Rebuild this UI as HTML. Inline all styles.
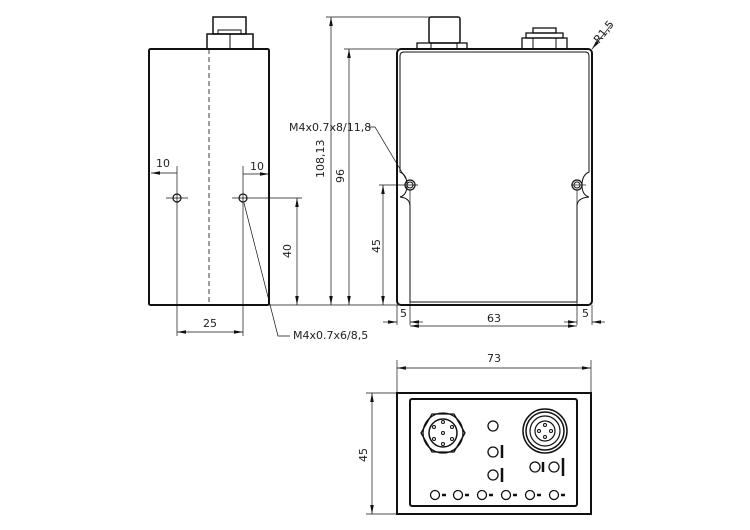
<!DOCTYPE html>
<html><head><meta charset="utf-8"><style>
html,body{margin:0;padding:0;background:#fff}
svg{display:block}
text{font-family:"DejaVu Sans","Liberation Sans",sans-serif;font-size:11px;fill:#222}
</style></head><body>
<svg width="750" height="530" viewBox="0 0 750 530" xmlns="http://www.w3.org/2000/svg">
<defs>
<marker id="a" viewBox="0 0 10 10" refX="10" refY="5" markerWidth="9" markerHeight="9" markerUnits="userSpaceOnUse" orient="auto-start-reverse"><path d="M0,3 L10,5 L0,7 z" fill="#111"/></marker>
</defs>
<g stroke="#111" fill="none">
<!-- LEFT VIEW -->
<rect x="149" y="49" width="120" height="256" rx="1.5" stroke-width="2"/>
<rect x="207" y="34" width="46" height="15" stroke-width="1.5"/>
<line x1="230" y1="34" x2="230" y2="49" stroke-width="1"/>
<rect x="213" y="17" width="33" height="17" stroke-width="1.5"/>
<rect x="218" y="30" width="23" height="4" stroke-width="1"/>
<line x1="209" y1="49" x2="209" y2="305" stroke-width="0.8" stroke-dasharray="5,3"/>
<circle cx="177" cy="198" r="4" stroke-width="1.2"/>
<circle cx="243" cy="198" r="4" stroke-width="1.2"/>
<g stroke-width="0.7">
<line x1="166" y1="198" x2="188" y2="198"/><line x1="232" y1="198" x2="302" y2="198"/>
<line x1="177" y1="166" x2="177" y2="336"/><line x1="243" y1="166" x2="243" y2="336"/>
<line x1="151" y1="173" x2="177" y2="173" marker-start="url(#a)"/>
<line x1="243" y1="174" x2="269" y2="174" marker-end="url(#a)"/>
<line x1="177" y1="332" x2="243" y2="332" marker-start="url(#a)" marker-end="url(#a)"/>
<line x1="297" y1="198" x2="297" y2="305" marker-start="url(#a)" marker-end="url(#a)"/>
<line x1="269" y1="305" x2="400" y2="305"/>
<polyline points="244,203 278,336 290,336"/>
<line x1="331" y1="17" x2="331" y2="305" marker-start="url(#a)" marker-end="url(#a)"/>
<line x1="349" y1="49" x2="349" y2="305" marker-start="url(#a)" marker-end="url(#a)"/>
<line x1="326" y1="17" x2="430" y2="17"/>
<line x1="344" y1="49" x2="398" y2="49"/>
</g>
<!-- RIGHT VIEW -->
<rect x="397" y="49" width="195" height="256" rx="4" stroke-width="2"/>
<path d="M400,172 L400,56 Q400,52 404,52 L585,52 Q589,52 589,56 L589,172 Q582,175 582,185 Q582,195 589,197 Q577,198 577,206 L577,302 L410,302 L410,206 Q410,198 400,197 Q407,195 407,185 Q407,175 400,172 Z" stroke-width="1"/>
<circle cx="410" cy="185" r="5" stroke-width="1.2"/><circle cx="410" cy="185" r="3" stroke-width="1"/>
<circle cx="577" cy="185" r="5" stroke-width="1.2"/><circle cx="577" cy="185" r="3" stroke-width="1"/>
<rect x="417" y="43" width="50" height="6" stroke-width="1.3"/>
<rect x="429" y="17" width="31" height="26" rx="2" stroke-width="1.5"/>
<line x1="431" y1="43" x2="431" y2="49"/><line x1="457" y1="43" x2="457" y2="49"/>
<rect x="522" y="38" width="45" height="11" stroke-width="1.3"/>
<rect x="526" y="33" width="37" height="5" stroke-width="1.3"/>
<rect x="533" y="28" width="23" height="5" stroke-width="1.3"/>
<line x1="533" y1="38" x2="533" y2="49"/><line x1="556" y1="38" x2="556" y2="49"/>
<g stroke-width="0.7">
<line x1="383" y1="185" x2="383" y2="305" marker-start="url(#a)" marker-end="url(#a)"/>
<line x1="379" y1="185" x2="418" y2="185"/><line x1="571" y1="185" x2="586" y2="185"/>
<line x1="397" y1="305" x2="397" y2="325"/><line x1="410" y1="190" x2="410" y2="325"/>
<line x1="577" y1="190" x2="577" y2="325"/><line x1="592" y1="305" x2="592" y2="325"/>
<line x1="383" y1="322" x2="397" y2="322" marker-end="url(#a)"/>
<line x1="410" y1="322" x2="423" y2="322" marker-start="url(#a)"/>
<line x1="410" y1="326" x2="577" y2="326" marker-start="url(#a)" marker-end="url(#a)"/>
<line x1="564" y1="322" x2="577" y2="322" marker-end="url(#a)"/>
<line x1="592" y1="322" x2="605" y2="322" marker-start="url(#a)"/>
<polyline points="368,127 375,127 406,179"/>
<line x1="592" y1="49" x2="611" y2="25" marker-start="url(#a)"/>
</g>
<!-- BOTTOM VIEW -->
<rect x="397" y="393" width="194" height="121" stroke-width="2"/>
<rect x="410" y="399" width="167" height="107" rx="2" stroke-width="2"/>
<polygon points="465,433 454,452 432,452 421,433 432,414 454,414" stroke-width="1.3"/>
<circle cx="443" cy="433" r="20" stroke-width="1.3"/>
<circle cx="443" cy="433" r="14" stroke-width="1.5"/>
<g stroke-width="1"><circle cx="443" cy="422" r="1.5"/><circle cx="452" cy="427" r="1.5"/><circle cx="452" cy="439" r="1.5"/><circle cx="443" cy="444" r="1.5"/><circle cx="434" cy="439" r="1.5"/><circle cx="434" cy="427" r="1.5"/><circle cx="443" cy="433" r="1.5"/></g>
<circle cx="545" cy="431" r="22" stroke-width="1.5"/>
<circle cx="545" cy="431" r="19" stroke-width="1.5"/>
<circle cx="545" cy="431" r="15" stroke-width="1.2"/>
<circle cx="545" cy="431" r="10" stroke-width="1.2"/>
<g stroke-width="1"><circle cx="545" cy="425" r="1.5"/><circle cx="551" cy="431" r="1.5"/><circle cx="545" cy="437" r="1.5"/><circle cx="539" cy="431" r="1.5"/></g>
<g stroke-width="1.3">
<circle cx="493" cy="426" r="5"/><circle cx="493" cy="452" r="5"/><circle cx="493" cy="475" r="5"/>
<circle cx="535" cy="467" r="5"/><circle cx="554" cy="467" r="5"/>
<circle cx="435" cy="495" r="4.5"/><circle cx="458" cy="495" r="4.5"/><circle cx="482" cy="495" r="4.5"/>
<circle cx="506" cy="495" r="4.5"/><circle cx="530" cy="495" r="4.5"/><circle cx="554" cy="495" r="4.5"/>
</g>
<g stroke-width="2.5">
<line x1="442" y1="495" x2="446" y2="495"/><line x1="465" y1="495" x2="469" y2="495"/><line x1="489" y1="495" x2="493" y2="495"/>
<line x1="513" y1="495" x2="517" y2="495"/><line x1="537" y1="495" x2="541" y2="495"/><line x1="561" y1="495" x2="565" y2="495"/>
<line x1="502" y1="445" x2="502" y2="458"/><line x1="502" y1="468" x2="502" y2="482"/>
<line x1="543" y1="462" x2="543" y2="472"/><line x1="563" y1="458" x2="563" y2="476"/>
</g>
<g stroke-width="0.7">
<line x1="397" y1="360" x2="397" y2="393"/><line x1="591" y1="360" x2="591" y2="393"/>
<line x1="397" y1="368" x2="591" y2="368" marker-start="url(#a)" marker-end="url(#a)"/>
<line x1="366" y1="393" x2="397" y2="393"/><line x1="366" y1="514" x2="397" y2="514"/>
<line x1="372" y1="393" x2="372" y2="514" marker-start="url(#a)" marker-end="url(#a)"/>
</g>
</g>
<text x="156" y="167">10</text>
<text x="250" y="170">10</text>
<text x="203" y="327">25</text>
<text x="293" y="339">M4x0.7x6/8,5</text>
<text transform="translate(291,258) rotate(-90)">40</text>
<text transform="translate(324,178) rotate(-90)">108,13</text>
<text transform="translate(344,183) rotate(-90)">96</text>
<text x="289" y="131">M4x0.7x8/11,8</text>
<text transform="translate(380,253) rotate(-90)">45</text>
<text x="400" y="317">5</text>
<text x="487" y="322">63</text>
<text x="582" y="317">5</text>
<text transform="translate(599,44) rotate(-52)">R1,5</text>
<text x="487" y="362">73</text>
<text transform="translate(367,462) rotate(-90)">45</text>
</svg>
</body></html>
